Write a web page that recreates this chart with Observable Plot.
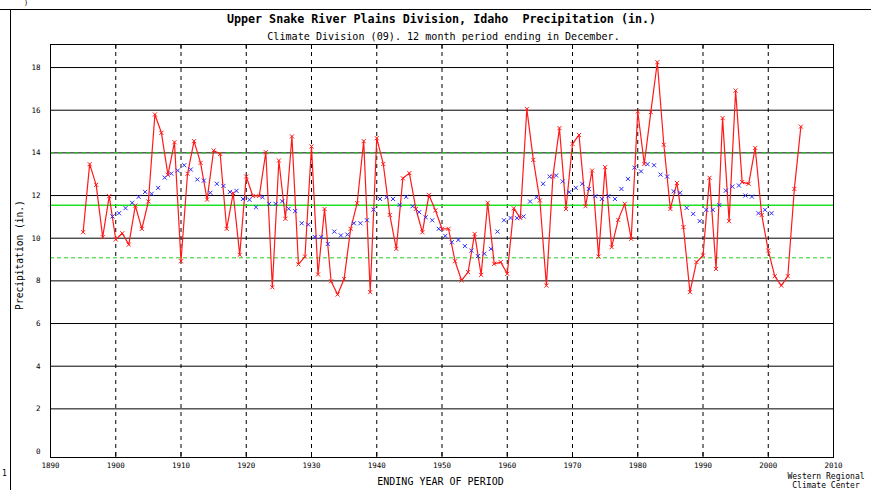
<!DOCTYPE html>
<html>
<head>
<meta charset="utf-8">
<script src="https://cdn.jsdelivr.net/npm/d3@7"></script>
<script src="https://cdn.jsdelivr.net/npm/@observablehq/plot@0.6"></script>
<style>
  html, body { margin: 0; padding: 0; background: #fff; }
  #wrap { position: relative; width: 871px; height: 490px; overflow: hidden; font-family: "DejaVu Sans Mono", monospace; color: #000; }
  #wrap svg { position: absolute; left: 0; top: 0; }
  .t { position: absolute; white-space: pre; line-height: 1; }
</style>
</head>
<body>
<div id="wrap">
  <div id="chart"></div>
  <div class="t" style="left:0;top:9px;width:871px;height:0;border-top:1px solid #000;"></div>
  <div class="t" style="left:10px;top:9px;width:0;height:484px;border-left:1px solid #000;"></div>
  <div class="t" style="left:24px;top:0px;font-size:7px;">)</div>
  <div class="t" style="left:2px;top:470px;font-size:8px;">1</div>
  <div class="t" id="title" style="left:0;width:871px;text-align:center;top:14px;font-size:11.7px;font-weight:bold;padding-left:12px;box-sizing:border-box;"></div>
  <div class="t" id="subtitle" style="left:0;width:871px;text-align:center;top:32px;font-size:10.1px;padding-left:16px;box-sizing:border-box;"></div>
  <div class="t" id="xlabel" style="left:0;width:871px;text-align:center;top:477px;font-size:10px;padding-left:10px;box-sizing:border-box;"></div>
  <div class="t" id="ylabel" style="left:20px;top:255px;font-size:9.6px;transform:translate(-50%,-50%) rotate(-90deg);"></div>
  <div class="t" id="credit" style="left:782px;width:88px;text-align:center;top:472px;font-size:8px;line-height:9px;"></div>
</div>
<script>
// ---- Data ----
const titleText = "Upper Snake River Plains Division, Idaho  Precipitation (in.)";
const subtitleText = "Climate Division (09). 12 month period ending in December.";
const xLabelText = "ENDING YEAR OF PERIOD";
const yLabelText = "Precipitation (in.)";
const creditLines = ["Western Regional", "Climate Center"];

const xTicks = [1890, 1900, 1910, 1920, 1930, 1940, 1950, 1960, 1970, 1980, 1990, 2000, 2010];
const decadeLines = [1900, 1910, 1920, 1930, 1940, 1950, 1960, 1970, 1980, 1990, 2000];
const yTicks = [0, 2, 4, 6, 8, 10, 12, 14, 16, 18];
const yGrid = [2, 4, 6, 8, 10, 12, 14, 16, 18];

const firstYear = 1895;
const precip = [
  10.28, 13.47, 12.50, 10.05, 11.97,                               // 1895-1899
  9.94, 10.23, 9.70, 11.53, 10.44, 11.72, 15.80, 14.94, 12.97, 14.50, // 1900s
  8.92, 13.02, 14.55, 13.53, 11.81, 14.11, 13.95, 10.44, 12.11, 9.22, // 1910s
  12.89, 11.98, 11.98, 14.03, 7.70, 13.64, 10.91, 14.77, 8.77, 9.14,  // 1920s
  14.30, 8.30, 11.37, 7.98, 7.36, 8.09, 10.44, 11.64, 14.55, 7.47,    // 1930s
  14.69, 13.48, 11.09, 9.50, 12.81, 13.05, 11.37, 10.28, 12.03, 11.30, // 1940s
  10.44, 10.44, 8.92, 8.02, 8.41, 10.20, 8.28, 11.66, 8.80, 8.88,     // 1950s
  8.33, 11.40, 10.95, 16.06, 13.67, 11.77, 7.78, 12.89, 15.16, 11.37, // 1960s
  14.42, 14.84, 11.50, 13.17, 9.14, 13.33, 9.58, 10.86, 11.61, 9.97,  // 1970s
  15.94, 13.48, 15.91, 18.25, 14.38, 11.37, 12.59, 10.52, 7.47, 8.88, // 1980s
  9.19, 12.83, 8.56, 15.63, 10.80, 16.92, 12.63, 12.55, 14.23, 11.09, // 1990s
  9.42, 8.22, 7.78, 8.22, 12.31, 15.23                                // 2000-2005
];

// 10-year running mean, plotted at the centre of each window (half years)
const avgFirstYear = 1899.5;
const avg10 = [
  11.02, 11.17, 11.41, 11.66, 11.94, 12.17, 12.08, 12.36, 12.84, 13.03, // 1899.5-1908.5
  13.17, 13.42, 13.22, 12.75, 12.70, 12.13, 12.55, 12.45, 12.17, 12.22, // 1909.5-1918.5
  11.84, 11.80, 11.45, 11.92, 11.61, 11.61, 11.73, 11.38, 11.27, 10.70, // 1919.5-1928.5
  10.64, 10.06, 10.06, 9.73, 10.31, 10.13, 10.17, 10.70, 10.70, 10.84,  // 1929.5-1938.5
  11.34, 11.84, 11.92, 11.84, 11.56, 11.94, 11.50, 11.22, 10.98, 10.84, // 1939.5-1948.5
  10.44, 10.11, 9.81, 9.92, 9.63, 9.42, 9.16, 9.27, 9.50, 10.31,        // 1949.5-1958.5
  10.84, 10.95, 10.94, 11.02, 11.72, 11.92, 12.55, 12.89, 12.94, 12.66, // 1959.5-1968.5
  12.16, 12.36, 12.55, 12.31, 11.97, 11.84, 11.97, 11.84, 12.31, 12.78, // 1969.5-1978.5
  13.31, 13.13, 13.47, 13.42, 12.98, 12.89, 12.20, 12.13, 11.42, 11.14, // 1979.5-1988.5
  10.80, 11.33, 11.33, 11.55, 12.23, 12.42, 12.47, 12.00, 11.95, 11.17, // 1989.5-1998.5
  11.33, 11.17                                                          // 1999.5-2000.5
];

const meanLevel = 11.55;
const upperLevel = 14.0;
const lowerLevel = 9.08;

// ---- Build tables ----
const series = precip.map((v, i) => ({year: firstYear + i, value: v}));
const running = avg10.map((v, i) => ({year: avgFirstYear + i, value: v}));

// ---- Layout ----
const W = 871, H = 490;
const mTop = 44, mBottom = 33, mLeft = 50, mRight = 38;
const frameH = H - mTop - mBottom;

const chart = Plot.plot({
  width: W,
  height: H,
  marginTop: mTop,
  marginBottom: mBottom,
  marginLeft: mLeft,
  marginRight: mRight,
  style: {fontFamily: "DejaVu Sans Mono, monospace", fontSize: "7.5px", color: "#000", background: "transparent", overflow: "visible"},
  x: {domain: [1890, 2010], ticks: xTicks, tickFormat: d => String(d), tickSize: 0, tickPadding: 5, label: null},
  y: {domain: [-0.28, 19.08], ticks: yTicks, tickFormat: d => String(d), tickSize: 0, tickPadding: 10, label: null},
  marks: [
    Plot.ruleY(yGrid, {stroke: "#000", strokeWidth: 1}),
    Plot.ruleX(decadeLines, {stroke: "#000", strokeWidth: 1, strokeDasharray: "4,4"}),
    Plot.ruleY([upperLevel], {stroke: "#2ec82e", strokeWidth: 1.2, strokeDasharray: "4,4"}),
    Plot.ruleY([meanLevel], {stroke: "#22e022", strokeWidth: 1.5}),
    Plot.ruleY([lowerLevel], {stroke: "#22d022", strokeWidth: 1, strokeDasharray: "4,3"}),
    Plot.line(series, {x: "year", y: "value", stroke: "#ff1a1a", strokeWidth: 1.2}),
    Plot.dot(series, {x: "year", y: "value", symbol: "times", r: 2, stroke: "#ff1a1a", strokeWidth: 1}),
    Plot.dot(running, {x: "year", y: "value", symbol: "times", r: 2, stroke: "#2a2aff", strokeWidth: 1}),
    Plot.ruleX(decadeLines, {stroke: "#000", insetBottom: frameH - 5}),
    Plot.ruleX(decadeLines, {stroke: "#000", insetTop: frameH - 5}),
    Plot.frame({stroke: "#000", strokeWidth: 1})
  ]
});
document.getElementById("chart").appendChild(chart);

document.getElementById("title").textContent = titleText;
document.getElementById("subtitle").textContent = subtitleText;
document.getElementById("xlabel").textContent = xLabelText;
document.getElementById("ylabel").textContent = yLabelText;
document.getElementById("credit").innerHTML = creditLines.join("<br>");
</script>
</body>
</html>
